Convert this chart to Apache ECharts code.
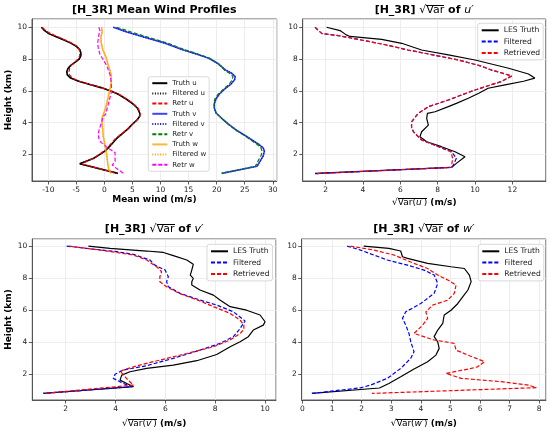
<!DOCTYPE html>
<html><head><meta charset="utf-8">
<script src="https://cdn.jsdelivr.net/npm/echarts@6/dist/echarts.min.js"></script>
<style>html,body{margin:0;padding:0;background:#fff}#c{width:550px;height:433px}</style>
</head><body><div id="c"></div>
<script>
// ---- Panel 1: mean wind profiles, points are [wind (m/s), height (km)]
const uTruth = [[-11.2,10.0],[-10.7,9.8],[-9.9,9.6],[-8.6,9.4],[-7.2,9.2],[-6.0,9.0],[-5.0,8.8],[-4.4,8.6],[-4.2,8.4],[-4.2,8.2],[-4.5,8.0],[-5.2,7.8],[-6.0,7.6],[-6.5,7.4],[-6.7,7.2],[-6.6,7.0],[-6.0,6.8],[-4.6,6.6],[-2.6,6.4],[-0.6,6.2],[1.0,6.0],[2.4,5.8],[3.8,5.5],[5.0,5.2],[5.9,4.9],[6.3,4.6],[6.3,4.4],[5.8,4.16],[5.0,3.9],[4.2,3.6],[3.2,3.3],[2.2,3.0],[1.2,2.6],[0.2,2.23],[-0.8,2.0],[-1.9,1.75],[-3.0,1.6],[-4.4,1.4],[2.4,0.8]];
const uFiltered = uTruth;
const uRetr = [[-11.1,10.0],[-10.5,9.8],[-9.6,9.6],[-8.3,9.4],[-7.0,9.2],[-5.8,9.0],[-4.9,8.8],[-4.5,8.6],[-4.4,8.4],[-4.4,8.2],[-4.7,8.0],[-5.3,7.8],[-5.9,7.6],[-6.2,7.4],[-6.3,7.2],[-6.2,7.0],[-5.7,6.8],[-4.4,6.6],[-2.5,6.4],[-0.5,6.2],[1.0,6.0],[2.5,5.8],[3.9,5.5],[5.1,5.2],[6.0,4.9],[6.4,4.6],[6.3,4.4],[5.8,4.16],[5.0,3.9],[4.1,3.6],[3.1,3.3],[2.0,3.0],[1.0,2.6],[0.0,2.23],[-0.9,2.0],[-1.9,1.75],[-2.9,1.6],[-4.0,1.4],[2.2,0.8]];
const vTruth = [[1.6,10.0],[4.0,9.7],[7.3,9.35],[10.8,9.0],[13.8,8.6],[16.5,8.3],[18.6,8.05],[20.3,7.7],[21.6,7.3],[22.7,7.1],[23.3,6.9],[23.2,6.7],[22.5,6.4],[21.4,6.1],[20.5,5.8],[19.9,5.5],[19.6,5.2],[19.6,4.9],[19.9,4.6],[20.8,4.3],[22.1,3.9],[23.6,3.5],[25.0,3.2],[26.3,2.9],[27.6,2.6],[28.3,2.4],[28.5,2.2],[28.3,1.9],[27.8,1.6],[27.2,1.25],[20.9,0.8]];
const vFiltered = vTruth;
const vRetr = [[2.2,10.0],[4.8,9.7],[8.0,9.35],[11.3,9.0],[14.2,8.6],[16.8,8.3],[18.8,8.05],[20.3,7.7],[21.4,7.3],[22.3,7.1],[22.9,6.9],[22.8,6.7],[22.2,6.4],[21.2,6.1],[20.3,5.8],[19.7,5.5],[19.5,5.2],[19.6,4.9],[19.9,4.6],[20.8,4.3],[22.0,3.9],[23.5,3.5],[24.9,3.2],[26.1,2.9],[27.3,2.6],[27.9,2.4],[28.1,2.2],[27.9,1.9],[27.4,1.6],[26.9,1.25],[20.9,0.8]];
const wTruth = [[-0.5,10.0],[-0.4,9.7],[-0.6,9.4],[-0.6,9.1],[-0.3,8.6],[0.3,8.1],[0.7,7.6],[1.2,7.0],[1.2,6.5],[1.0,6.1],[0.6,5.5],[0.2,4.9],[-0.2,4.5],[-0.5,4.2],[-0.3,3.6],[-0.2,3.1],[0.1,2.6],[0.3,2.2],[0.5,1.7],[0.6,1.4],[0.8,1.0],[1.2,0.8]];
const wFiltered = wTruth;
const wRetr = [[-1.0,10.0],[-0.8,9.8],[-1.0,9.5],[-1.2,9.0],[-1.1,8.7],[-0.8,8.3],[0.4,7.6],[1.0,7.0],[1.2,6.6],[1.3,6.0],[0.8,5.3],[0.2,4.5],[-0.2,4.4],[-0.5,4.0],[-0.9,3.6],[-1.1,3.3],[-1.0,3.0],[-0.6,2.75],[0.7,2.38],[1.9,2.1],[1.9,1.8],[1.9,1.55],[1.4,1.33],[2.2,1.1],[3.4,0.8]];

// ---- Panel 2: sqrt Var(u')
const uVarTruth = [[2.05,10],[2.77,9.79],[3.1,9.52],[3.3,9.42],[5.0,9.24],[6.07,8.99],[7.14,8.57],[8.57,8.26],[10.0,7.94],[11.8,7.42],[12.86,7.06],[13.2,6.8],[12.6,6.6],[11.6,6.37],[10.7,6.16],[10.2,5.84],[9.64,5.53],[9.0,5.21],[8.57,5.0],[7.86,4.68],[7.45,4.58],[7.41,4.26],[7.5,3.84],[7.14,3.42],[7.05,3.11],[7.41,2.79],[8.2,2.48],[8.93,2.16],[9.46,1.85],[9.0,1.43],[8.75,1.18],[1.43,0.8]];
const uVarFilt = [[1.43,10],[1.8,9.6],[2.8,9.45],[3.9,9.2],[5.2,8.9],[6.4,8.57],[7.8,8.25],[9.1,7.94],[10.2,7.6],[10.9,7.3],[11.5,7.1],[11.96,6.93],[11.4,6.58],[10.0,6.05],[9.2,5.7],[8.57,5.42],[7.5,5.0],[6.96,4.58],[6.6,4.05],[6.6,3.7],[6.7,3.42],[7.14,2.9],[8.04,2.48],[8.75,2.16],[9.0,1.75],[8.84,1.32],[8.75,1.18],[1.43,0.78]];
const uVarRetr = [[1.43,10],[1.8,9.6],[2.8,9.45],[3.9,9.2],[5.2,8.9],[6.4,8.57],[7.8,8.25],[9.1,7.94],[10.2,7.6],[10.9,7.3],[11.5,7.1],[11.96,6.93],[11.4,6.58],[10.0,6.05],[9.2,5.7],[8.57,5.42],[7.5,5.0],[6.96,4.58],[6.6,4.05],[6.6,3.7],[6.7,3.42],[7.14,2.9],[8.04,2.48],[8.7,2.16],[8.8,1.75],[8.75,1.32],[8.75,1.18],[1.43,0.78]];

// ---- Panel 3: sqrt Var(v')
const vVarTruth = [[2.91,10],[3.78,9.85],[5.25,9.69],[5.92,9.6],[6.32,9.4],[6.86,9.13],[7.12,8.86],[7.06,8.5],[7.0,8.19],[7.12,7.98],[7.06,7.78],[7.06,7.57],[7.39,7.26],[7.93,6.94],[8.19,6.63],[8.6,6.22],[9.26,6.0],[9.8,5.7],[10.0,5.28],[9.93,5.07],[9.53,4.76],[9.33,4.35],[9.0,4.03],[8.6,3.72],[8.06,3.24],[7.26,2.85],[6.32,2.58],[5.25,2.37],[4.58,2.16],[4.25,1.95],[4.18,1.64],[4.45,1.43],[4.72,1.23],[1.1,0.81]];
const vVarFilt = [[2.04,10],[2.84,9.85],[4.05,9.65],[4.72,9.48],[5.38,9.13],[5.58,8.81],[5.99,8.5],[6.12,8.09],[6.05,7.78],[6.12,7.46],[6.59,7.05],[7.39,6.63],[8.06,6.32],[8.73,5.9],[9.2,5.32],[9.1,5.1],[9.0,4.86],[8.73,4.35],[8.19,3.93],[7.39,3.51],[6.32,3.0],[5.25,2.54],[4.31,2.27],[3.98,2.0],[3.91,1.75],[4.31,1.43],[4.65,1.23],[1.1,0.81]];
const vVarRetr = [[2.13,10],[3.38,9.75],[4.72,9.44],[5.25,9.13],[5.65,8.71],[5.85,8.4],[5.78,8.09],[5.78,7.78],[6.05,7.46],[6.55,7.05],[7.3,6.63],[7.93,6.22],[8.6,5.8],[9.0,5.38],[9.15,5.07],[9.15,4.8],[9.0,4.55],[8.6,4.14],[7.93,3.72],[6.86,3.3],[5.52,2.79],[4.72,2.47],[4.18,2.2],[4.3,2.0],[4.5,1.64],[4.72,1.33],[1.1,0.81]];

// ---- Panel 4: sqrt Var(w')
const wVarTruth = [[2.07,10],[2.92,9.85],[3.32,9.69],[3.38,9.33],[3.55,9.23],[4.23,8.92],[5.02,8.71],[5.47,8.6],[5.64,8.19],[5.7,7.78],[5.59,7.26],[5.42,6.84],[5.25,6.42],[5.02,6.0],[4.79,5.7],[4.74,5.18],[4.57,4.76],[4.45,4.35],[4.57,4.03],[4.62,3.62],[4.51,3.2],[4.23,2.79],[3.77,2.33],[3.32,1.85],[2.92,1.43],[2.6,1.15],[0.32,0.81]];
const wVarFilt = [[1.51,10],[1.96,9.75],[2.41,9.44],[2.87,9.13],[3.55,8.81],[4.11,8.5],[4.45,8.19],[4.57,7.67],[4.45,7.05],[4.0,6.42],[3.49,5.9],[3.38,5.49],[3.49,5.07],[3.6,4.55],[3.66,4.03],[3.77,3.41],[3.66,3.0],[3.32,2.37],[2.87,1.75],[2.3,1.33],[1.96,1.16],[0.32,0.81]];
const wVarRetr = [[1.62,10],[2.41,9.75],[3.09,9.44],[3.77,8.92],[4.23,8.6],[4.57,8.19],[4.91,7.88],[5.19,7.57],[5.13,7.05],[4.91,6.63],[4.4,6.32],[4.17,5.9],[4.23,5.49],[4.06,5.07],[3.89,4.76],[3.77,4.55],[4.45,4.14],[5.13,3.93],[5.19,3.51],[5.59,3.2],[6.15,2.79],[5.92,2.47],[5.7,2.37],[4.85,2.06],[5.36,1.75],[6.72,1.54],[7.63,1.33],[7.9,1.17],[2.35,0.81]];

const FONT = 'DejaVu Sans';
const DASH = [4, 2];
const DOT = [1, 1.6];

// thin line image used as the vinculum over "Var" in the square-root labels
const over = document.createElement('canvas');
over.width = 20; over.height = 100;
(function () { const g = over.getContext('2d'); g.fillStyle = '#000'; g.fillRect(0, 2, 20, 10); })();

function xAx(grid, min, max, split, name, gap, rich) {
  return {
    type: 'value', gridIndex: grid, min: min, max: max, splitNumber: split,
    name: name, nameLocation: 'middle', nameGap: gap,
    nameTextStyle: { fontFamily: FONT, fontSize: 9, fontWeight: 'bold', color: '#000', rich: rich || {} },
    axisLine: { show: true, onZero: false, lineStyle: { color: '#333', width: 0.8 } },
    axisTick: { show: true, inside: false, length: 3.5, lineStyle: { color: '#333', width: 0.8 } },
    axisLabel: { fontFamily: FONT, fontSize: 7.5, color: '#222', margin: 5, showMinLabel: false, showMaxLabel: false },
    splitLine: { show: true, lineStyle: { color: '#e8e8e8', width: 0.8 } }
  };
}
function yAx(grid, min, max, name) {
  return {
    type: 'value', gridIndex: grid, min: min, max: max, splitNumber: 5,
    name: name || '', nameLocation: 'middle', nameGap: 19,
    nameTextStyle: { fontFamily: FONT, fontSize: 9, fontWeight: 'bold', color: '#000' },
    axisLine: { show: true, onZero: false, lineStyle: { color: '#333', width: 0.8 } },
    axisTick: { show: true, inside: false, length: 3.5, lineStyle: { color: '#333', width: 0.8 } },
    axisLabel: { fontFamily: FONT, fontSize: 7.5, color: '#222', margin: 5, showMinLabel: false, showMaxLabel: false },
    splitLine: { show: true, lineStyle: { color: '#e8e8e8', width: 0.8 } }
  };
}
function ln(name, data, gi, color, width, type, opacity) {
  return {
    type: 'line', name: name, data: data, xAxisIndex: gi, yAxisIndex: gi,
    symbol: 'none', showSymbol: false, smooth: false, silent: true,
    lineStyle: { color: color, width: width, type: type, opacity: opacity == null ? 1 : opacity },
    itemStyle: { color: color }
  };
}
function legend(left, top, names, fs, iw, ih, gap) {
  return {
    orient: 'vertical', left: left, top: top, data: names,
    itemWidth: iw, itemHeight: ih, itemGap: gap, padding: [2.5, 3, 2.5, 3],
    backgroundColor: 'rgba(255,255,255,0.85)', borderColor: '#cfcfcf', borderWidth: 0.8, borderRadius: 2.5,
    itemStyle: { opacity: 0 },
    textStyle: { fontFamily: FONT, fontSize: fs, color: '#222', lineHeight: ih },
    selectedMode: false
  };
}
function mkRich(fs) {
  const lh = Math.round(fs * 1.15);
  return {
    b: { fontFamily: FONT, fontSize: fs, fontWeight: 'bold', color: '#000' },
    r: { fontFamily: FONT, fontSize: fs, fontWeight: 'normal', color: '#000' },
    o: { fontFamily: FONT, fontSize: fs, fontWeight: 'normal', color: '#000', lineHeight: lh,
         backgroundColor: { image: over } },
    oi: { fontFamily: FONT, fontSize: fs, fontWeight: 'normal', fontStyle: 'italic', color: '#000', lineHeight: lh,
         backgroundColor: { image: over } },
    i: { fontFamily: FONT, fontSize: fs, fontWeight: 'normal', fontStyle: 'italic', color: '#000' }
  };
}
function title(text, cx, top) {
  return { text: text, left: cx, top: top, textAlign: 'center', padding: 0,
    textStyle: { fontFamily: FONT, fontSize: 11, fontWeight: 'bold', color: '#000', rich: mkRich(11) } };
}
function varTitle(c) { return '{b|[H_3R] }{r|\u221A}{o|Var}{b| of }{i|' + c + '\u2032}'; }
function varName(c) { return '{r|\u221A}{o|Var(}{oi|' + c + '\u2032}{o|)}{b| (m/s)}'; }

const option = {
  animation: false,
  backgroundColor: '#fff',
  title: [
    title('[H_3R] Mean Wind Profiles', 154.2, 5),
    title(varTitle('u'), 424.2, 4),
    title(varTitle('v'), 154.2, 223),
    title(varTitle('w'), 423.8, 223)
  ],
  grid: [
    { left: 32, top: 19, width: 244.7, height: 162, show: true, borderColor: '#333', borderWidth: 0.8, backgroundColor: 'transparent' },
    { left: 302.7, top: 19, width: 243.1, height: 162, show: true, borderColor: '#333', borderWidth: 0.8, backgroundColor: 'transparent' },
    { left: 32.3, top: 239, width: 243.7, height: 161, show: true, borderColor: '#333', borderWidth: 0.8, backgroundColor: 'transparent' },
    { left: 301.7, top: 239, width: 244.2, height: 161, show: true, borderColor: '#333', borderWidth: 0.8, backgroundColor: 'transparent' }
  ],
  xAxis: [
    xAx(0, -12.9, 30.7, 9, 'Mean wind (m/s)', 14.6),
    xAx(1, 0.77, 13.79, 6, varName('u'), 16.5, mkRich(9)),
    xAx(2, 0.66, 10.44, 5, varName('v'), 18.3, mkRich(9)),
    xAx(3, -0.025, 8.225, 8, varName('w'), 18.3, mkRich(9))
  ],
  yAxis: [
    yAx(0, 0.32, 10.52, 'Height (km)'),
    yAx(1, 0.32, 10.52),
    yAx(2, 0.40, 10.44, 'Height (km)'),
    yAx(3, 0.40, 10.44)
  ],
  legend: [
    legend(148.3, 76.7, ['Truth u','Filtered u','Retr u','Truth v','Filtered v','Retr v','Truth w','Filtered w','Retr w'], 7, 15, 8, 2.2),
    legend(477.7, 23.3, ['LES Truth','Filtered','Retrieved'], 7.6, 17, 9, 2.3),
    legend(207, 244.3, ['LES Truth','Filtered','Retrieved'], 7.6, 17, 9, 2.3),
    legend(478.3, 244.3, ['LES Truth','Filtered','Retrieved'], 7.6, 17, 9, 2.3)
  ],
  series: [
    ln('Truth u', uTruth, 0, '#000000', 1.6, 'solid'),
    ln('Filtered u', uFiltered, 0, '#000000', 1.2, DOT),
    ln('Retr u', uRetr, 0, '#ff0000', 1.2, DASH),
    ln('Truth v', vTruth, 0, '#0000ff', 1.6, 'solid', 0.75),
    ln('Filtered v', vFiltered, 0, '#0000ff', 1.2, DOT),
    ln('Retr v', vRetr, 0, '#008000', 1.2, DASH),
    ln('Truth w', wTruth, 0, '#ffa500', 1.6, 'solid', 0.8),
    ln('Filtered w', wFiltered, 0, '#ffa500', 1.2, DOT),
    ln('Retr w', wRetr, 0, '#ff00ff', 1.2, DASH),

    ln('LES Truth', uVarTruth, 1, '#000000', 1.2, 'solid'),
    ln('Filtered', uVarFilt, 1, '#0000ff', 1.2, DASH),
    ln('Retrieved', uVarRetr, 1, '#ff0000', 1.2, DASH),

    ln('LES Truth', vVarTruth, 2, '#000000', 1.2, 'solid'),
    ln('Filtered', vVarFilt, 2, '#0000ff', 1.2, DASH),
    ln('Retrieved', vVarRetr, 2, '#ff0000', 1.2, DASH),

    ln('LES Truth', wVarTruth, 3, '#000000', 1.2, 'solid'),
    ln('Filtered', wVarFilt, 3, '#0000ff', 1.2, DASH),
    ln('Retrieved', wVarRetr, 3, '#ff0000', 1.2, DASH)
  ]
};
const chart = echarts.init(document.getElementById('c'), null, { renderer: 'canvas' });
chart.setOption(option);
</script>
</body></html>
